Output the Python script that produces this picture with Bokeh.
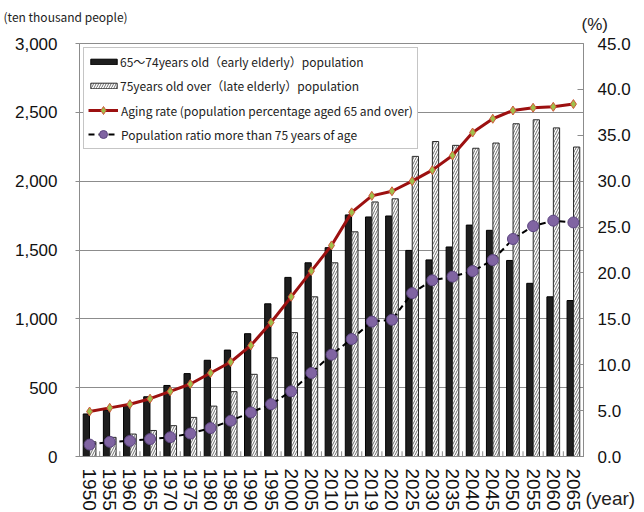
from bokeh.plotting import figure
from bokeh.models import (Range1d, LinearAxis, FixedTicker, NumeralTickFormatter,
                          ColumnDataSource, Legend, LegendItem, Label, FactorRange)
from bokeh.transform import dodge
from bokeh.embed import file_html
from bokeh.resources import INLINE

# ---------------- data ----------------
years = ["1950", "1955", "1960", "1965", "1970", "1975", "1980", "1985", "1990", "1995",
         "2000", "2005", "2010", "2015", "2019", "2020", "2025", "2030", "2035", "2040",
         "2045", "2050", "2055", "2060", "2065"]
early_elderly = [309, 338, 376, 434, 516, 602, 699, 773, 892, 1109,
                 1301, 1407, 1517, 1755, 1740, 1747, 1497, 1428, 1522, 1681,
                 1643, 1424, 1258, 1160, 1133]
late_elderly = [107, 139, 163, 189, 224, 284, 366, 471, 597, 717,
                900, 1160, 1407, 1632, 1849, 1872, 2180, 2288, 2260, 2239,
                2277, 2417, 2446, 2387, 2248]
aging_rate = [4.9, 5.3, 5.7, 6.3, 7.1, 7.9, 9.1, 10.3, 12.1, 14.6,
              17.4, 20.2, 23.0, 26.6, 28.4, 28.9, 30.0, 31.2, 32.8, 35.3,
              36.8, 37.7, 38.0, 38.1, 38.4]
late_ratio = [1.3, 1.6, 1.7, 1.9, 2.1, 2.5, 3.1, 3.9, 4.8, 5.7,
              7.1, 9.1, 11.1, 12.8, 14.7, 14.9, 17.8, 19.2, 19.6, 20.2,
              21.4, 23.7, 25.1, 25.7, 25.5]
left_ticks = [0, 500, 1000, 1500, 2000, 2500, 3000]
right_ticks = [0, 5, 10, 15, 20, 25, 30, 35, 40, 45]

label_early = "65～74years old（early elderly）population"
label_late = "75years old over（late elderly）population"
label_aging = "Aging rate (population percentage aged 65 and over)"
label_ratio = "Population ratio more than 75 years of age"

src = ColumnDataSource(dict(year=years, early=early_elderly, late=late_elderly,
                            aging=aging_rate, ratio=late_ratio))

TICK_FONT = "Liberation Sans"
TEXT_FONT = "Noto Sans CJK JP"

p = figure(frame_width=504, frame_height=413, x_range=FactorRange(factors=years),
           y_range=Range1d(0, 3000), output_backend="svg", toolbar_location=None,
           min_border_left=79, min_border_right=53, min_border_top=43, min_border_bottom=48,
           background_fill_color="white", border_fill_color="white")
p.extra_y_ranges = {"pct": Range1d(0, 45)}
p.outline_line_color = "#8c8c8c"

# ---------------- bars ----------------
bar_early = p.vbar(x=dodge("year", -0.16, range=p.x_range), top="early", width=0.31,
                   source=src, fill_color="#1e1e1e", line_color="#000000", line_width=1)
bar_late = p.vbar(x=dodge("year", 0.16, range=p.x_range), top="late", width=0.31,
                  source=src, fill_color="white", line_color="#2a2a2a", line_width=1,
                  hatch_pattern="/", hatch_color="#707070", hatch_scale=5, hatch_weight=1)

# category boundary ticks on bottom axis
p.segment(x0=dodge("year", -0.5, range=p.x_range), y0=0,
          x1=dodge("year", -0.5, range=p.x_range), y1=38, source=src,
          line_color="#8c8c8c", line_width=1)

# ---------------- lines ----------------
line_aging = p.line("year", "aging", source=src, y_range_name="pct",
                    line_color="#9c1010", line_width=3)
pts_aging = p.scatter("year", "aging", source=src, y_range_name="pct", marker="diamond",
                      size=9, fill_color="#9fbf4a", line_color="#d0573a", line_width=1)
line_ratio = p.line("year", "ratio", source=src, y_range_name="pct",
                    line_color="#000000", line_width=2, line_dash="6 4")
pts_ratio = p.scatter("year", "ratio", source=src, y_range_name="pct", marker="circle",
                      size=11, fill_color="#8064a2", line_color="#5c4580", line_width=1)

# ---------------- axes ----------------
p.xgrid.visible = False
p.ygrid.grid_line_color = "#8c8c8c"
p.ygrid.grid_line_width = 1

ya = p.yaxis[0]
ya.ticker = FixedTicker(ticks=left_ticks)
ya.formatter = NumeralTickFormatter(format="0,0")
ya.major_label_text_font = TICK_FONT
ya.major_label_text_font_size = "17px"
ya.major_label_text_color = "#111111"
ya.major_tick_in = 0
ya.major_tick_out = 4
ya.minor_tick_line_color = None
ya.axis_line_color = "#8c8c8c"
ya.major_tick_line_color = "#8c8c8c"
ya.major_label_standoff = 18

ra = LinearAxis(y_range_name="pct", ticker=FixedTicker(ticks=right_ticks),
                formatter=NumeralTickFormatter(format="0.0"))
ra.major_label_text_font = TICK_FONT
ra.major_label_text_font_size = "17px"
ra.major_label_text_color = "#111111"
ra.major_tick_in = 6
ra.major_tick_out = 0
ra.minor_tick_line_color = None
ra.axis_line_color = "#8c8c8c"
ra.major_tick_line_color = "#8c8c8c"
ra.major_label_standoff = 14
p.add_layout(ra, "right")

xa = p.xaxis[0]
xa.major_label_orientation = "vertical"
xa.major_label_text_font = TICK_FONT
xa.major_label_text_font_size = "19px"
xa.major_label_text_color = "#111111"
xa.major_tick_line_color = None
xa.axis_line_color = "#8c8c8c"
xa.major_label_standoff = 6

# ---------------- legends ----------------
dummy1 = p.line(x=[], y=[], line_alpha=0)
dummy2 = p.line(x=[], y=[], line_alpha=0)

common = dict(location="top_left", margin=4, padding=4, spacing=4, label_height=20,
              label_text_font=TEXT_FONT, label_text_font_size="12px",
              label_text_color="#222222")

legend_lines = Legend(items=[LegendItem(label=" ", renderers=[dummy1]),
                             LegendItem(label=" ", renderers=[dummy2]),
                             LegendItem(label=label_aging, renderers=[line_aging, pts_aging]),
                             LegendItem(label=label_ratio, renderers=[line_ratio, pts_ratio])],
                      glyph_width=30, glyph_height=20, label_standoff=3,
                      border_line_color="#8c8c8c", border_line_width=1,
                      background_fill_color="white", background_fill_alpha=1.0, **common)
legend_bars = Legend(items=[LegendItem(label=label_early, renderers=[bar_early]),
                            LegendItem(label=label_late, renderers=[bar_late])],
                     glyph_width=33, glyph_height=7, label_standoff=0,
                     border_line_alpha=0, background_fill_alpha=0, **common)
p.add_layout(legend_lines, "center")
p.add_layout(legend_bars, "center")

# ---------------- unit labels (data-space positions, in side panels) ----------------
p.add_layout(Label(x=-3.77, y=3196, text="(ten thousand people)", text_font=TEXT_FONT,
                   text_font_size="12px", text_color="#222222", text_baseline="middle"),
             "above")
p.add_layout(Label(x=24.9, y=3138, text="(%)", text_font=TICK_FONT,
                   text_font_size="17px", text_color="#222222", text_baseline="middle"),
             "above")
p.add_layout(Label(x=25.1, y=-305, text="(year)", text_font=TICK_FONT,
                   text_font_size="19px", text_color="#222222", text_baseline="middle"),
             "below")

open("out.html", "w").write(file_html(p, INLINE))
